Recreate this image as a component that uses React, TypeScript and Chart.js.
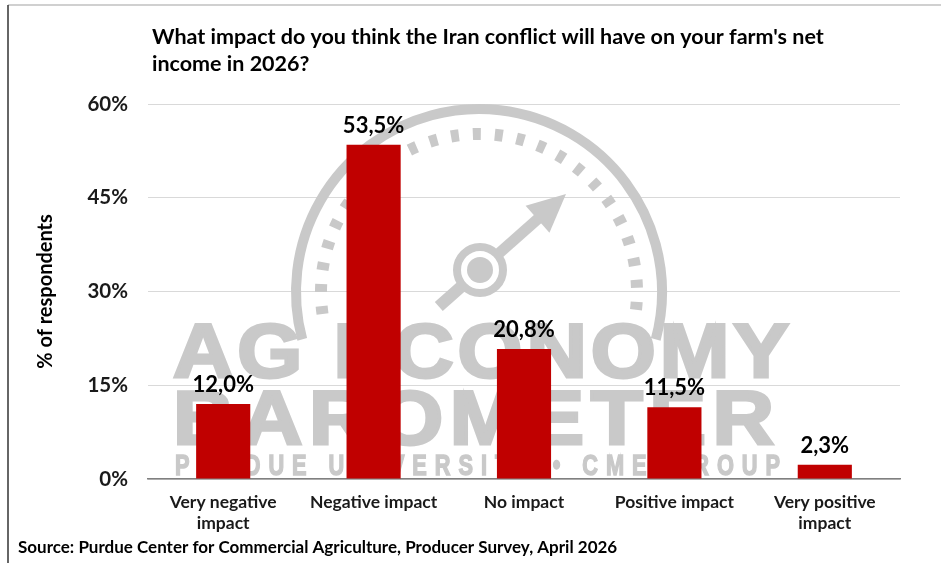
import React, { useEffect, useRef } from "react";
import { Chart, registerables } from "chart.js";

Chart.register(...registerables);

const categories: (string | string[])[] = [
  ["Very negative", "impact"],
  "Negative impact",
  "No impact",
  "Positive impact",
  ["Very positive", "impact"],
];
const values = [12.0, 53.5, 20.8, 11.5, 2.3];
const yTickValues = [0, 15, 30, 45, 60];
const titleLines = [
  "What impact do you think the Iran conflict will have on your farm's net",
  "income in 2026?",
];
const yAxisTitle = "% of respondents";
const sourceText =
  "Source: Purdue Center for Commercial Agriculture, Producer Survey, April 2026";

const BAR_COLOR = "#C00000";
const WM = "#c9c9c9";
const FONT = "Lato, 'Liberation Sans', sans-serif";

function drawSpaced(
  ctx: CanvasRenderingContext2D,
  text: string,
  x1: number,
  x2: number,
  baseline: number,
  sx: number,
  strokeW: number
) {
  const chars = Array.from(text);
  const widths = chars.map((c) => ctx.measureText(c).width * sx);
  const total = widths.reduce((a, b) => a + b, 0);
  const gap = chars.length > 1 ? (x2 - x1 - total) / (chars.length - 1) : 0;
  let x = x1;
  chars.forEach((c, i) => {
    ctx.save();
    ctx.translate(x, baseline);
    ctx.scale(sx, 1);
    ctx.fillText(c, 0, 0);
    if (strokeW > 0) {
      ctx.lineWidth = strokeW;
      ctx.lineJoin = "miter";
      ctx.strokeText(c, 0, 0);
    }
    ctx.restore();
    x += widths[i] + gap;
  });
}

function drawWatermark(ctx: CanvasRenderingContext2D) {
  ctx.save();
  ctx.strokeStyle = WM;
  ctx.fillStyle = WM;
  const cx = 479, cy = 292;
  ctx.lineWidth = 10;
  ctx.beginPath();
  ctx.arc(cx, cy, 183, (165 * Math.PI) / 180, (375 * Math.PI) / 180);
  ctx.stroke();
  ctx.lineWidth = 12;
  ctx.setLineDash([8, 14]);
  ctx.beginPath();
  ctx.arc(cx, cy, 158, (172 * Math.PI) / 180, (368 * Math.PI) / 180);
  ctx.stroke();
  ctx.setLineDash([]);
  const hx = 480, hy = 270;
  ctx.lineWidth = 8;
  ctx.beginPath();
  ctx.arc(hx, hy, 23, 0, Math.PI * 2);
  ctx.stroke();
  ctx.beginPath();
  ctx.arc(hx, hy, 13, 0, Math.PI * 2);
  ctx.fill();
  const tx = 566, ty = 194;
  const dx = tx - hx, dy = ty - hy;
  const len = Math.hypot(dx, dy);
  const ux = dx / len, uy = dy / len;
  const nx = -uy, ny = ux;
  ctx.lineWidth = 11;
  ctx.beginPath();
  ctx.moveTo(hx + ux * 26, hy + uy * 26);
  ctx.lineTo(tx - ux * 30, ty - uy * 30);
  ctx.stroke();
  ctx.beginPath();
  ctx.moveTo(tx, ty);
  ctx.lineTo(tx - ux * 38 + nx * 18, ty - uy * 38 + ny * 18);
  ctx.lineTo(tx - ux * 38 - nx * 18, ty - uy * 38 - ny * 18);
  ctx.closePath();
  ctx.fill();
  ctx.lineWidth = 12;
  ctx.beginPath();
  ctx.moveTo(hx - ux * 26, hy - uy * 26);
  ctx.lineTo(hx - ux * 55, hy - uy * 55);
  ctx.stroke();
  ctx.textBaseline = "alphabetic";
  ctx.textAlign = "left";
  ctx.font = "bold 76px 'Liberation Sans', Arial, sans-serif";
  drawSpaced(ctx, "AG ECONOMY", 173, 789, 377, 1.1, 3);
  drawSpaced(ctx, "BAROMETER", 173, 774, 444, 1.12, 3);
  ctx.font = "bold 29px 'Liberation Sans', Arial, sans-serif";
  drawSpaced(ctx, "PURDUE UNIVERSITY \u2022 CME GROUP", 175, 780, 475, 0.75, 1.5);
  ctx.restore();
}

const decorPlugin = {
  id: "decor",
  beforeDraw(chart: any) {
    const ctx = chart.ctx as CanvasRenderingContext2D;
    ctx.save();
    ctx.fillStyle = "#ffffff";
    ctx.fillRect(0, 0, chart.width, chart.height);
    ctx.strokeStyle = "#c0c0c0";
    ctx.lineWidth = 1.5;
    ctx.beginPath();
    ctx.moveTo(8, 5);
    ctx.lineTo(chart.width, 5);
    ctx.stroke();
    ctx.strokeStyle = "#333333";
    ctx.beginPath();
    ctx.moveTo(8, 5);
    ctx.lineTo(8, chart.height);
    ctx.stroke();
    ctx.restore();
  },
  beforeDatasetsDraw(chart: any) {
    drawWatermark(chart.ctx);
  },
  afterDatasetsDraw(chart: any) {
    const ctx = chart.ctx as CanvasRenderingContext2D;
    const meta = chart.getDatasetMeta(0);
    ctx.save();
    ctx.fillStyle = "#000000";
    ctx.font = `bold 22px ${FONT}`;
    ctx.textAlign = "center";
    ctx.textBaseline = "alphabetic";
    meta.data.forEach((bar: any, i: number) => {
      const label = values[i].toFixed(1).replace(".", ",") + "%";
      ctx.fillText(label, bar.x, bar.y - 12);
    });
    ctx.restore();
  },
  afterDraw(chart: any) {
    const ctx = chart.ctx as CanvasRenderingContext2D;
    const area = chart.chartArea;
    ctx.save();
    ctx.fillStyle = "#000000";
    ctx.textAlign = "left";
    ctx.textBaseline = "alphabetic";
    ctx.font = `bold 21.5px ${FONT}`;
    ctx.fillText(titleLines[0], 152, 44);
    ctx.fillText(titleLines[1], 152, 71);
    ctx.font = `bold 17px ${FONT}`;
    ctx.fillText(sourceText, 18, 553);
    ctx.translate(46, (area.top + area.bottom) / 2);
    ctx.rotate(-Math.PI / 2);
    ctx.textAlign = "center";
    ctx.textBaseline = "middle";
    ctx.font = `bold 20px ${FONT}`;
    ctx.fillText(yAxisTitle, 0, 0);
    ctx.restore();
  },
};

export default function App() {
  const ref = useRef<HTMLCanvasElement | null>(null);
  useEffect(() => {
    document.body.style.margin = "0";
    const canvas = ref.current;
    if (!canvas) return;
    const chart = new Chart(canvas, {
      type: "bar",
      data: {
        labels: categories as any,
        datasets: [
          {
            data: values,
            backgroundColor: BAR_COLOR,
            borderWidth: 0,
            barPercentage: 0.36,
            categoryPercentage: 1,
          },
        ],
      },
      options: {
        responsive: false,
        animation: false,
        devicePixelRatio: 1,
        layout: { padding: { top: 104, right: 41, bottom: 0, left: 8 } },
        plugins: {
          legend: { display: false },
          title: { display: false },
          tooltip: { enabled: false },
        },
        scales: {
          x: {
            grid: { display: false, drawTicks: false },
            border: { display: true, color: "#808080", width: 1.5 },
            ticks: {
              color: "#1a1a1a",
              font: { family: FONT, size: 17.5, weight: "bold", lineHeight: 1.2 },
              padding: 13,
              maxRotation: 0,
              autoSkip: false,
            },
            afterFit: (s: any) => {
              s.height = 84;
            },
          },
          y: {
            min: 0,
            max: 60,
            afterBuildTicks: (s: any) => {
              s.ticks = yTickValues.map((v) => ({ value: v }));
            },
            grid: { color: "#d9d9d9", lineWidth: 1, drawTicks: false },
            border: { display: false },
            ticks: {
              color: "#1a1a1a",
              font: { family: FONT, size: 20.5, weight: "bold" },
              padding: 20,
              callback: (v: any) => v + "%",
            },
            afterFit: (s: any) => {
              s.width = 140;
            },
          },
        },
      },
      plugins: [decorPlugin],
    });
    return () => chart.destroy();
  }, []);
  return (
    <div style={{ width: 941, height: 563 }}>
      <canvas ref={ref} width={941} height={563} style={{ display: "block" }} />
    </div>
  );
}
